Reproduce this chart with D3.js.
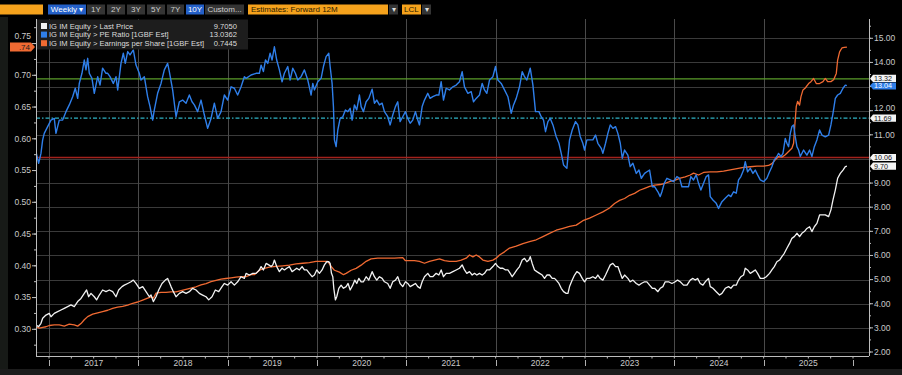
<!DOCTYPE html>
<html><head><meta charset="utf-8">
<script src="https://cdn.jsdelivr.net/npm/d3@7/dist/d3.min.js"></script>
<style>html,body{margin:0;padding:0;background:#000;overflow:hidden}svg{display:block}</style>
</head><body><svg id="c" width="902" height="375"></svg>
<script>
// ---------- DATA ----------
const yearMarks = [2017,2018,2019,2020,2021,2022,2023,2024,2025,2026];
const yearGrid = [2017,2018,2019,2020,2021,2022,2023,2024,2025];
const yearLabels = [2017,2018,2019,2020,2021,2022,2023,2024,2025];
const leftTicks = [0.30,0.35,0.40,0.45,0.50,0.55,0.60,0.65,0.70,0.75];
const rightTicks = [2,3,4,5,6,7,8,9,10,11,12,13,14,15];
const refLevels = [13.32, 11.69, 10.06];
const legendNames = ["IG IM Equity > Last Price","IG IM Equity > PE Ratio [1GBF Est]","IG IM Equity > Earnings per Share [1GBF Est]"];
const legendValues = ["9.7050","13.0362","0.7445"];
const toolbarLabels = ["Weekly \u25BE","1Y","2Y","3Y","5Y","7Y","10Y","Custom..."];
const estimatesLabel = "Estimates: Forward 12M";
const currencyLabel = "LCL";

const peRatio = [
[2016.854,10.30],[2016.884,9.82],[2016.910,10.23],[2016.929,10.79],[2016.947,11.06],[2016.985,11.34],[2017.022,11.61],[2017.059,11.68],[2017.078,11.06],[2017.115,11.61],[2017.153,11.61],[2017.190,11.96],[2017.227,12.24],[2017.265,12.58],[2017.294,12.93],[2017.321,12.51],[2017.339,13.13],[2017.369,13.55],[2017.395,14.10],[2017.414,13.69],[2017.433,14.17],[2017.451,13.55],[2017.481,13.34],[2017.507,12.72],[2017.545,13.41],[2017.571,13.06],[2017.600,13.76],[2017.638,13.55],[2017.657,13.55],[2017.683,13.41],[2017.720,13.13],[2017.750,13.41],[2017.769,12.86],[2017.806,13.96],[2017.832,14.38],[2017.854,13.96],[2017.881,14.45],[2017.907,14.31],[2017.944,14.52],[2017.974,13.89],[2018.011,13.55],[2018.030,13.27],[2018.067,13.41],[2018.104,12.58],[2018.131,12.17],[2018.160,11.61],[2018.179,12.03],[2018.216,12.72],[2018.254,13.13],[2018.291,13.69],[2018.328,13.96],[2018.347,13.62],[2018.384,12.86],[2018.422,11.75],[2018.459,12.37],[2018.496,12.44],[2018.534,12.31],[2018.571,12.65],[2018.601,12.37],[2018.627,12.24],[2018.664,11.96],[2018.702,12.44],[2018.739,11.82],[2018.776,11.27],[2018.814,11.68],[2018.851,12.31],[2018.888,11.68],[2018.926,11.96],[2018.963,12.65],[2019.000,12.44],[2019.038,12.99],[2019.075,12.93],[2019.112,12.65],[2019.150,12.99],[2019.187,13.41],
[2019.206,13.34],[2019.262,13.48],[2019.318,13.55],[2019.355,13.55],[2019.374,13.89],[2019.400,13.62],[2019.423,14.10],[2019.449,13.96],[2019.475,14.38],[2019.497,14.10],[2019.523,14.65],[2019.549,14.10],[2019.579,13.69],[2019.609,13.20],[2019.635,13.55],[2019.673,13.83],[2019.699,13.27],[2019.729,13.76],[2019.758,13.55],[2019.785,13.27],[2019.822,13.41],[2019.859,13.69],[2019.897,13.27],[2019.934,12.65],[2019.953,13.13],[2019.971,12.86],[2020.009,13.20],[2020.046,13.34],[2020.072,13.83],[2020.102,14.24],[2020.132,14.38],[2020.147,13.83],[2020.169,13.13],[2020.184,12.17],[2020.195,10.79],[2020.214,10.51],[2020.233,11.20],[2020.259,11.68],[2020.289,11.75],[2020.318,12.03],[2020.345,11.96],[2020.371,12.10],[2020.393,11.61],[2020.419,12.24],[2020.445,12.03],[2020.475,12.65],[2020.494,12.17],[2020.520,11.96],[2020.550,12.37],[2020.580,12.51],[2020.617,12.89],[2020.643,12.31],[2020.669,12.44],[2020.699,12.24],[2020.729,12.31],[2020.755,11.96],[2020.792,11.75],[2020.819,11.41],[2020.848,11.82],[2020.878,12.17],[2020.904,12.37],[2020.930,11.55],[2020.960,11.75],[2020.990,11.96],[2021.016,11.68],[2021.043,11.48],[2021.072,11.61],[2021.102,11.96],[2021.128,11.61],[2021.147,11.41],[2021.177,12.17],[2021.203,12.44],[2021.240,12.72],[2021.266,12.51],[2021.296,12.58],[2021.334,12.65],[2021.364,12.65],[2021.390,13.20],[2021.416,12.44],[2021.446,12.93],[2021.483,12.86],[2021.521,12.99],
[2021.558,13.06],[2021.595,13.20],[2021.625,13.62],[2021.651,12.99],[2021.689,12.72],[2021.726,12.79],[2021.752,12.37],[2021.782,12.51],[2021.819,12.65],[2021.849,13.13],[2021.875,12.86],[2021.901,12.72],[2021.931,13.27],[2021.969,13.41],[2021.998,13.83],[2022.025,13.27],[2022.062,13.13],[2022.099,12.86],[2022.137,12.58],[2022.174,11.89],[2022.200,12.24],[2022.230,12.51],[2022.267,12.99],[2022.297,13.62],[2022.323,13.41],[2022.349,13.27],[2022.387,13.76],[2022.417,13.06],[2022.446,11.96],[2022.484,11.96],[2022.510,11.75],[2022.536,11.61],[2022.558,11.13],[2022.585,11.55],[2022.611,11.68],[2022.641,11.41],[2022.678,10.92],[2022.708,10.65],[2022.734,10.23],[2022.760,9.75],[2022.797,9.61],[2022.827,10.79],[2022.857,11.20],[2022.894,11.55],[2022.920,11.41],[2022.947,10.92],[2022.976,10.65],[2022.995,10.37],[2023.021,10.79],[2023.051,10.79],[2023.088,10.79],[2023.118,10.99],[2023.144,10.65],[2023.182,10.44],[2023.200,10.23],[2023.230,10.65],[2023.256,11.06],[2023.283,11.41],[2023.312,11.27],[2023.342,11.34],[2023.368,11.06],[2023.395,10.65],[2023.417,10.03],[2023.443,10.37],[2023.480,10.16],[2023.506,9.68],[2023.536,9.82],[2023.574,9.40],[2023.604,9.54],[2023.630,9.20],[2023.667,9.40],[2023.693,9.47],[2023.723,9.54],[2023.753,8.85],[2023.779,8.85],[2023.816,8.64],[2023.842,8.44],
[2023.861,8.64],[2023.887,8.99],[2023.917,9.20],[2023.954,9.13],[2023.991,9.06],[2024.029,9.27],[2024.059,9.20],[2024.085,8.85],[2024.122,8.85],[2024.159,8.85],[2024.185,9.27],[2024.215,9.13],[2024.245,9.34],[2024.271,8.99],[2024.297,8.71],[2024.327,8.99],[2024.357,9.27],[2024.383,9.34],[2024.402,8.44],[2024.432,8.30],[2024.469,8.16],[2024.495,7.95],[2024.533,8.23],[2024.570,8.37],[2024.607,8.51],[2024.633,8.44],[2024.663,8.64],[2024.693,8.58],[2024.719,9.13],[2024.745,9.27],[2024.775,9.54],[2024.794,9.89],[2024.820,9.47],[2024.850,9.61],[2024.880,9.40],[2024.906,9.54],[2024.932,9.34],[2024.962,9.13],[2024.999,9.06],[2025.036,9.20],[2025.066,9.47],[2025.092,9.68],[2025.119,9.96],[2025.148,10.10],[2025.167,10.23],[2025.193,10.10],[2025.216,10.23],[2025.242,10.85],[2025.260,10.65],[2025.279,10.51],[2025.298,11.06],[2025.316,11.34],[2025.335,11.41],[2025.354,10.92],[2025.372,10.51],[2025.391,10.37],[2025.410,10.10],[2025.447,10.37],[2025.484,10.16],[2025.514,10.37],[2025.540,10.10],[2025.567,10.51],[2025.596,10.79],[2025.626,11.20],[2025.652,10.99],[2025.690,10.92],[2025.727,10.99],[2025.753,11.41],[2025.776,11.89],[2025.802,12.51],[2025.828,12.65],[2025.858,12.72],[2025.888,12.93],[2025.914,13.06],[2025.932,13.04]
];

const lastPrice = [
[2016.854,3.12],[2016.884,3.05],[2016.910,3.19],[2016.929,3.40],[2016.966,3.53],[2017.003,3.60],[2017.022,3.46],[2017.059,3.60],[2017.097,3.67],[2017.134,3.74],[2017.171,3.81],[2017.209,3.88],[2017.246,3.95],[2017.283,3.88],[2017.321,4.09],[2017.358,4.22],[2017.395,4.43],[2017.421,4.57],[2017.444,4.29],[2017.470,4.43],[2017.507,4.29],[2017.533,4.16],[2017.563,4.36],[2017.600,4.57],[2017.638,4.50],[2017.675,4.57],[2017.713,4.50],[2017.750,4.29],[2017.780,4.57],[2017.817,4.71],[2017.843,4.77],[2017.881,4.84],[2017.918,4.91],[2017.944,4.98],[2017.974,4.84],[2018.011,4.64],[2018.049,4.71],[2018.086,4.50],[2018.123,4.29],[2018.142,4.36],[2018.168,4.09],[2018.198,4.29],[2018.228,4.57],[2018.265,4.84],[2018.302,4.98],[2018.328,5.05],[2018.366,4.71],[2018.392,4.50],[2018.422,4.29],[2018.459,4.43],[2018.496,4.50],[2018.534,4.43],[2018.571,4.50],[2018.608,4.64],[2018.646,4.57],[2018.683,4.43],[2018.720,4.36],[2018.758,4.29],[2018.788,4.16],[2018.825,4.29],[2018.862,4.57],[2018.900,4.50],[2018.937,4.71],[2018.963,4.84],[2019.000,4.77],[2019.038,4.91],[2019.075,4.77],[2019.112,4.91],[2019.150,5.12],[2019.187,5.05],
[2019.206,5.26],[2019.243,5.19],[2019.281,5.26],[2019.318,5.26],[2019.355,5.40],[2019.374,5.54],[2019.400,5.40],[2019.430,5.67],[2019.460,5.61],[2019.486,5.54],[2019.505,5.61],[2019.523,5.81],[2019.549,5.54],[2019.579,5.33],[2019.609,5.47],[2019.635,5.40],[2019.661,5.47],[2019.691,5.54],[2019.721,5.33],[2019.747,5.40],[2019.773,5.47],[2019.803,5.40],[2019.833,5.54],[2019.859,5.40],[2019.885,5.40],[2019.915,5.26],[2019.945,5.12],[2019.971,5.19],[2019.997,5.40],[2020.027,5.26],[2020.057,5.40],[2020.083,5.61],[2020.109,5.74],[2020.132,5.74],[2020.147,5.67],[2020.162,5.26],[2020.177,5.12],[2020.188,4.64],[2020.206,4.16],[2020.221,4.29],[2020.244,4.64],[2020.270,4.77],[2020.296,4.64],[2020.326,4.71],[2020.348,4.84],[2020.371,4.57],[2020.400,4.77],[2020.423,4.98],[2020.445,4.84],[2020.468,5.05],[2020.494,4.91],[2020.520,4.91],[2020.550,5.12],[2020.580,4.98],[2020.617,5.33],[2020.643,5.12],[2020.669,4.98],[2020.699,5.12],[2020.729,5.05],[2020.755,4.91],[2020.792,4.84],[2020.819,4.64],[2020.848,4.91],[2020.878,4.98],[2020.904,5.12],[2020.930,4.84],[2020.960,4.71],[2020.990,4.91],[2021.016,4.84],[2021.043,4.71],[2021.072,4.77],[2021.102,4.84],[2021.128,4.71],[2021.154,4.64],[2021.177,4.91],[2021.203,5.12],[2021.240,5.26],[2021.266,5.12],[2021.296,5.12],[2021.334,5.26],[2021.364,5.19],[2021.390,5.40],[2021.416,5.12],[2021.446,5.26],[2021.483,5.26],[2021.521,5.33],
[2021.558,5.40],[2021.595,5.47],[2021.625,5.61],[2021.651,5.40],[2021.677,5.26],[2021.707,5.33],[2021.737,5.19],[2021.763,5.26],[2021.789,5.19],[2021.819,5.26],[2021.849,5.19],[2021.875,5.26],[2021.901,5.40],[2021.931,5.40],[2021.969,5.54],[2021.998,5.67],[2022.025,5.54],[2022.051,5.47],[2022.081,5.47],[2022.110,5.40],[2022.137,5.40],[2022.163,5.26],[2022.185,5.12],[2022.211,5.26],[2022.237,5.40],[2022.267,5.54],[2022.297,5.81],[2022.323,5.88],[2022.349,5.74],[2022.372,5.81],[2022.387,5.95],[2022.409,5.67],[2022.435,5.40],[2022.461,5.33],[2022.491,5.26],[2022.521,5.19],[2022.547,5.05],[2022.573,5.19],[2022.603,5.19],[2022.633,5.05],[2022.659,5.05],[2022.678,4.98],[2022.708,4.84],[2022.734,4.64],[2022.760,4.50],[2022.790,4.43],[2022.809,4.43],[2022.827,4.71],[2022.857,4.98],[2022.883,5.19],[2022.909,5.33],[2022.939,5.26],[2022.969,5.05],[2022.995,4.91],[2023.021,5.05],[2023.051,5.05],[2023.088,5.12],[2023.118,5.05],[2023.144,5.19],[2023.170,5.05],[2023.200,4.98],[2023.230,5.19],[2023.256,5.40],[2023.283,5.61],[2023.312,5.67],[2023.342,5.54],[2023.368,5.54],[2023.395,5.26],[2023.417,5.05],[2023.443,5.19],[2023.480,5.05],[2023.506,4.91],[2023.536,4.98],[2023.574,4.84],[2023.604,4.77],[2023.630,4.84],[2023.667,4.91],[2023.693,4.91],[2023.723,4.77],[2023.753,4.64],[2023.779,4.64],[2023.816,4.50],
[2023.842,4.64],[2023.872,4.71],[2023.898,4.91],[2023.935,4.91],[2023.973,4.84],[2024.010,4.91],[2024.036,4.98],[2024.066,4.91],[2024.103,4.77],[2024.141,4.77],[2024.178,4.98],[2024.208,5.05],[2024.234,4.98],[2024.260,5.05],[2024.290,4.84],[2024.320,4.77],[2024.346,4.91],[2024.383,5.05],[2024.402,4.71],[2024.432,4.64],[2024.469,4.50],[2024.506,4.36],[2024.533,4.43],[2024.570,4.64],[2024.607,4.71],[2024.633,4.64],[2024.663,4.77],[2024.693,4.77],[2024.719,4.98],[2024.745,5.12],[2024.775,5.19],[2024.794,5.47],[2024.820,5.40],[2024.850,5.26],[2024.880,5.33],[2024.906,5.40],[2024.932,5.26],[2024.962,5.05],[2024.999,5.05],[2025.029,5.12],[2025.066,5.26],[2025.092,5.40],[2025.119,5.54],[2025.148,5.74],[2025.178,5.81],[2025.204,5.95],[2025.231,6.09],[2025.260,6.30],[2025.290,6.50],[2025.316,6.71],[2025.343,6.78],[2025.372,6.92],[2025.402,6.78],[2025.428,6.92],[2025.455,6.99],[2025.484,7.12],[2025.514,7.19],[2025.540,6.99],[2025.567,7.19],[2025.596,7.33],[2025.626,7.68],[2025.652,7.68],[2025.690,7.68],[2025.727,7.61],[2025.753,7.89],[2025.776,8.30],[2025.802,8.71],[2025.828,9.20],[2025.858,9.40],[2025.888,9.54],[2025.914,9.68],[2025.932,9.70]
];

const eps = [
[2016.854,0.304],[2016.891,0.302],[2016.929,0.303],[2016.966,0.304],[2017.003,0.306],[2017.059,0.307],[2017.115,0.307],[2017.171,0.305],[2017.227,0.308],[2017.283,0.307],[2017.321,0.305],[2017.358,0.309],[2017.395,0.315],[2017.433,0.320],[2017.489,0.324],[2017.545,0.326],[2017.600,0.328],[2017.657,0.330],[2017.713,0.333],[2017.769,0.335],[2017.825,0.336],[2017.881,0.338],[2017.937,0.341],[2017.993,0.343],[2018.049,0.346],[2018.104,0.349],[2018.142,0.351],[2018.168,0.349],[2018.198,0.357],[2018.254,0.358],[2018.310,0.358],[2018.366,0.359],[2018.422,0.359],[2018.478,0.361],[2018.534,0.363],[2018.590,0.365],[2018.646,0.367],[2018.702,0.370],[2018.758,0.372],[2018.814,0.375],[2018.870,0.377],[2018.926,0.379],[2018.981,0.380],[2019.038,0.381],[2019.094,0.382],[2019.150,0.383],
[2019.206,0.383],[2019.262,0.386],[2019.299,0.386],[2019.355,0.393],[2019.411,0.396],[2019.467,0.398],[2019.542,0.399],[2019.617,0.400],[2019.691,0.401],[2019.766,0.403],[2019.841,0.404],[2019.915,0.405],[2019.990,0.407],[2020.064,0.407],[2020.121,0.407],[2020.158,0.399],[2020.195,0.393],[2020.251,0.390],[2020.296,0.386],[2020.326,0.388],[2020.382,0.393],[2020.438,0.396],[2020.494,0.401],[2020.550,0.407],[2020.606,0.411],[2020.680,0.412],[2020.774,0.412],[2020.867,0.412],[2020.960,0.413],[2020.990,0.408],[2021.035,0.408],[2021.091,0.408],[2021.147,0.407],[2021.203,0.404],[2021.259,0.407],[2021.315,0.409],[2021.371,0.411],[2021.427,0.408],[2021.483,0.407],
[2021.558,0.407],[2021.614,0.409],[2021.670,0.412],[2021.707,0.417],[2021.745,0.414],[2021.782,0.417],[2021.819,0.414],[2021.857,0.409],[2021.913,0.407],[2021.969,0.409],[2022.006,0.412],[2022.043,0.417],[2022.099,0.422],[2022.155,0.428],[2022.230,0.431],[2022.305,0.435],[2022.379,0.438],[2022.454,0.441],[2022.529,0.446],[2022.603,0.451],[2022.678,0.456],[2022.753,0.459],[2022.827,0.462],[2022.902,0.464],[2022.976,0.471],[2023.051,0.475],[2023.126,0.480],[2023.200,0.485],[2023.275,0.491],[2023.331,0.498],[2023.387,0.503],[2023.443,0.506],[2023.499,0.511],[2023.555,0.514],[2023.611,0.519],[2023.667,0.522],[2023.723,0.525],[2023.779,0.527],
[2023.842,0.528],[2023.898,0.530],[2023.954,0.533],[2024.010,0.535],[2024.066,0.538],[2024.122,0.540],[2024.178,0.543],[2024.215,0.546],[2024.271,0.543],[2024.327,0.547],[2024.402,0.548],[2024.477,0.548],[2024.551,0.549],[2024.626,0.551],[2024.701,0.553],[2024.775,0.555],[2024.850,0.556],[2024.925,0.557],[2024.999,0.557],[2025.055,0.558],[2025.092,0.561],[2025.130,0.567],[2025.167,0.572],[2025.204,0.571],[2025.242,0.575],[2025.279,0.580],[2025.316,0.585],[2025.335,0.593],[2025.350,0.624],[2025.365,0.651],[2025.380,0.659],[2025.402,0.653],[2025.417,0.666],[2025.440,0.677],[2025.466,0.680],[2025.503,0.687],[2025.529,0.690],[2025.559,0.695],[2025.589,0.687],[2025.626,0.687],[2025.664,0.690],[2025.690,0.695],[2025.716,0.690],[2025.753,0.690],[2025.783,0.693],[2025.813,0.703],[2025.828,0.724],[2025.850,0.737],[2025.876,0.743],[2025.903,0.744],[2025.932,0.7445]
];

// ---------- STYLE ----------
const C = {
  bg:"#000", grid:"#3a3a3a", vgrid:"#4a4a4a", axis:"#bdbdbd", text:"#c9c9c9",
  white:"#f2f2f2", blue:"#2f7fea", orange:"#f06a32",
  green:"#5a9c2a", cyan:"#2fb2c4", red:"#a3221c",
  orangeBar:"#f5a21c", btnBlue:"#2460c8", btnGrey:"#343434", legendBg:"#1d1d1d"
};
const FONT = "'Liberation Sans', Arial, sans-serif";

const svg = d3.select("#c").style("font-family", FONT);
const L = 36, R = 869, T = 19, B = 356;

const x = d3.scaleLinear().domain([2017, 2026]).range([49, 853]);
const yR = d3.scaleLinear().domain([2, 15]).range([352, 38.3]);
const yL = d3.scaleLinear().domain([0.30, 0.70]).range([329.3, 75.3]);

svg.append("rect").attr("width",902).attr("height",375).attr("fill",C.bg);
svg.append("rect").attr("x",0).attr("y",17).attr("width",8).attr("height",352).attr("fill","#171a17");
svg.append("rect").attr("x",0).attr("y",369).attr("width",902).attr("height",6).attr("fill","#1c1c1c");

// ---------- toolbar ----------
const tb = svg.append("g").attr("font-size",8);
tb.append("rect").attr("x",0).attr("y",4.5).attr("width",43).attr("height",10).attr("fill",C.orangeBar);
const btnX = [48, 87, 107, 127, 147, 167, 186, 205];
const btnW = [38, 18, 18, 18, 18, 17, 18, 39];
toolbarLabels.forEach((t,i)=>{
  const blue = (i===0 || i===6);
  tb.append("rect").attr("x",btnX[i]).attr("y",4.5).attr("width",btnW[i]).attr("height",10)
    .attr("fill", blue?C.btnBlue:C.btnGrey);
  tb.append("text").attr("x",btnX[i]+btnW[i]/2).attr("y",12.3).attr("text-anchor","middle")
    .attr("fill", blue?"#fff":"#cfcfcf").text(t);
});
tb.append("rect").attr("x",248).attr("y",4.5).attr("width",140).attr("height",10).attr("fill",C.orangeBar);
tb.append("text").attr("x",251).attr("y",12.3).attr("fill","#2a1a00").text(estimatesLabel);
tb.append("rect").attr("x",389).attr("y",4.5).attr("width",9).attr("height",10).attr("fill",C.btnGrey);
tb.append("text").attr("x",393.5).attr("y",12.3).attr("text-anchor","middle").attr("fill","#ddd").text("\u25BE");
tb.append("rect").attr("x",402).attr("y",4.5).attr("width",19).attr("height",10).attr("fill",C.orangeBar);
tb.append("text").attr("x",404).attr("y",12.3).attr("fill","#2a1a00").text(currencyLabel);
tb.append("rect").attr("x",422).attr("y",4.5).attr("width",9).attr("height",10).attr("fill",C.btnGrey);
tb.append("text").attr("x",426.5).attr("y",12.3).attr("text-anchor","middle").attr("fill","#ddd").text("\u25BE");

// ---------- grid ----------
const g = svg.append("g");
g.selectAll(".hg").data(rightTicks).join("line")
  .attr("x1",L).attr("x2",R).attr("y1",d=>Math.round(yR(d))+0.5).attr("y2",d=>Math.round(yR(d))+0.5)
  .attr("stroke",C.grid).attr("stroke-width",1);
g.selectAll(".vg").data(yearGrid).join("line")
  .attr("x1",d=>Math.round(x(d))+0.5).attr("x2",d=>Math.round(x(d))+0.5).attr("y1",T).attr("y2",B)
  .attr("stroke",C.vgrid).attr("stroke-width",1);

const refColors = [C.green, C.cyan, C.red];
refLevels.forEach((v,i)=>{
  g.append("line").attr("x1",L).attr("x2",R).attr("y1",yR(v)).attr("y2",yR(v))
   .attr("stroke",refColors[i]).attr("stroke-width",1.3)
   .attr("stroke-dasharray", i===1 ? "4,2,1.5,2" : null);
});

// ---------- series ----------
svg.append("clipPath").attr("id","clip").append("rect").attr("x",L).attr("y",T).attr("width",R-L).attr("height",B-T);
const plot = svg.append("g").attr("clip-path","url(#clip)");
const lineR = d3.line().x(d=>x(d[0])).y(d=>yR(d[1]));
const lineL = d3.line().x(d=>x(d[0])).y(d=>yL(d[1]));
plot.append("path").datum(eps).attr("d",lineL).attr("fill","none").attr("stroke",C.orange).attr("stroke-width",1.3).attr("stroke-linejoin","round");
plot.append("path").datum(lastPrice).attr("d",lineR).attr("fill","none").attr("stroke",C.white).attr("stroke-width",1.3).attr("stroke-linejoin","round");
plot.append("path").datum(peRatio).attr("d",lineR).attr("fill","none").attr("stroke",C.blue).attr("stroke-width",1.4).attr("stroke-linejoin","round");

// tag values (right side)
const lastPx = lastPrice[lastPrice.length-1][1];
const lastPe = peRatio[peRatio.length-1][1];
const tagValues = refLevels.concat([lastPx, lastPe]);
const hiddenByTag = d => tagValues.some(v => Math.abs(yR(v) - yR(d)) < 7);
// labels just next to a tag are nudged away from it
const labelShift = d => {
  let s = 0;
  tagValues.forEach(v => { const dd = yR(d) - yR(v); if (Math.abs(dd) < 9.5) s += (dd < 0 ? -1 : 1) * (9.5 - Math.abs(dd)); });
  return s;
};

// ---------- axes ----------
const ax = svg.append("g").attr("font-size",8.5).attr("fill",C.text);
ax.append("line").attr("x1",L+0.5).attr("x2",L+0.5).attr("y1",T).attr("y2",B).attr("stroke",C.axis);
const leftMinor = d3.range(0.275, 0.80, 0.025);
ax.selectAll(".lmin").data(leftMinor).join("line")
  .attr("x1",L-2).attr("x2",L).attr("y1",d=>yL(d)).attr("y2",d=>yL(d)).attr("stroke",C.axis).attr("stroke-width",1)
  .attr("display",d=>(yL(d)<T||yL(d)>B)?"none":null);
ax.selectAll(".lmaj").data(leftTicks).join("line")
  .attr("x1",L-4).attr("x2",L).attr("y1",d=>yL(d)).attr("y2",d=>yL(d)).attr("stroke",C.axis);
ax.selectAll(".llab").data(leftTicks).join("text")
  .attr("x",L-5).attr("y",d=>yL(d) - (d>0.74?7.5:0)).attr("dy","0.33em").attr("text-anchor","end").text(d=>d3.format(".2f")(d));
ax.append("line").attr("x1",R+0.5).attr("x2",R+0.5).attr("y1",T).attr("y2",B).attr("stroke",C.axis);
const rightMinor = d3.range(1.5, 16, 0.5);
ax.selectAll(".rmin").data(rightMinor).join("line")
  .attr("x1",R).attr("x2",R+2).attr("y1",d=>yR(d)).attr("y2",d=>yR(d)).attr("stroke",C.axis)
  .attr("display",d=>(yR(d)<T||yR(d)>B)?"none":null);
ax.selectAll(".rmaj").data(rightTicks).join("line")
  .attr("x1",R).attr("x2",R+4).attr("y1",d=>yR(d)).attr("y2",d=>yR(d)).attr("stroke",C.axis);
ax.selectAll(".rlab").data(rightTicks.filter(d=>!hiddenByTag(d))).join("text")
  .attr("x",R+5).attr("y",d=>yR(d)+labelShift(d)).attr("dy","0.33em").text(d=>d3.format(".2f")(d));
ax.append("line").attr("x1",L).attr("x2",R).attr("y1",B+0.5).attr("y2",B+0.5).attr("stroke",C.axis);
const quarterTicks = d3.range(2016.75, 2026.01, 0.25).filter(d=>x(d)>=L && x(d)<=R);
ax.selectAll(".qt").data(quarterTicks).join("line")
  .attr("x1",d=>x(d)).attr("x2",d=>x(d)).attr("y1",B).attr("y2",B+2.5).attr("stroke",C.axis);
ax.selectAll(".ym").data(yearMarks).join("line")
  .attr("x1",d=>Math.round(x(d))+0.5).attr("x2",d=>Math.round(x(d))+0.5).attr("y1",B+4).attr("y2",B+10).attr("stroke","#b0b0b0");
ax.selectAll(".yl").data(yearLabels).join("text")
  .attr("x",d=>x(d+0.5)).attr("y",B+10).attr("text-anchor","middle").text(d=>d);

// ---------- value tags (with simple de-collision) ----------
const tags = [
  ...refLevels.map(v=>({v, fill:"#f4f4f4", fg:"#111"})),
  {v:lastPx, fill:"#f4f4f4", fg:"#111"},
  {v:lastPe, fill:C.blue, fg:"#fff"}
].map(t=>({...t, y:yR(t.v)})).sort((a,b)=>a.y-b.y);
const MIN_GAP = 7.6;
for (let k=0;k<3;k++){
  for (let i=1;i<tags.length;i++){
    const d = tags[i].y - tags[i-1].y;
    if (d < MIN_GAP){ const s=(MIN_GAP-d)/2; tags[i-1].y -= s; tags[i].y += s; }
  }
}
tags.forEach(t=>{
  const yy = t.y, ya = yR(t.v);
  const tg = svg.append("g");
  tg.append("path").attr("d",`M${R+1},${ya} L${R+4},${yy-3.6} L${R+27},${yy-3.6} L${R+27},${yy+3.6} L${R+4},${yy+3.6} Z`).attr("fill",t.fill);
  tg.append("text").attr("x",R+5).attr("y",yy).attr("dy","0.34em").attr("font-size",7.2).attr("fill",t.fg).text(d3.format(".2f")(t.v));
});
{
  const v = eps[eps.length-1][1], yy = yL(v);
  svg.append("path").attr("d",`M${L-1},${yy} L${L-5},${yy-4.5} L10,${yy-4.5} L10,${yy+4.5} L${L-5},${yy+4.5} Z`).attr("fill",C.orange);
  svg.append("text").attr("x",L-6).attr("y",yy).attr("dy","0.35em").attr("text-anchor","end").attr("font-size",8).attr("fill","#222").text(d3.format(".2f")(v).replace(/^0/,""));
}

// ---------- legend ----------
const lg = svg.append("g").attr("font-size",7.6);
lg.append("rect").attr("x",L+1).attr("y",19.5).attr("width",211).attr("height",30).attr("fill",C.legendBg);
const legColors = [C.white, C.blue, C.orange];
const legY = [26, 34.6, 43.2];
legendNames.forEach((n,i)=>{
  lg.append("rect").attr("x",41).attr("y",legY[i]-3).attr("width",6).attr("height",6).attr("fill",legColors[i]);
  lg.append("text").attr("x",49).attr("y",legY[i]).attr("dy","0.35em").attr("fill","#dcdcdc").text(n);
  lg.append("text").attr("x",237).attr("y",legY[i]).attr("dy","0.35em").attr("text-anchor","end").attr("fill","#dcdcdc").text(legendValues[i]);
});
</script>
</body></html>
